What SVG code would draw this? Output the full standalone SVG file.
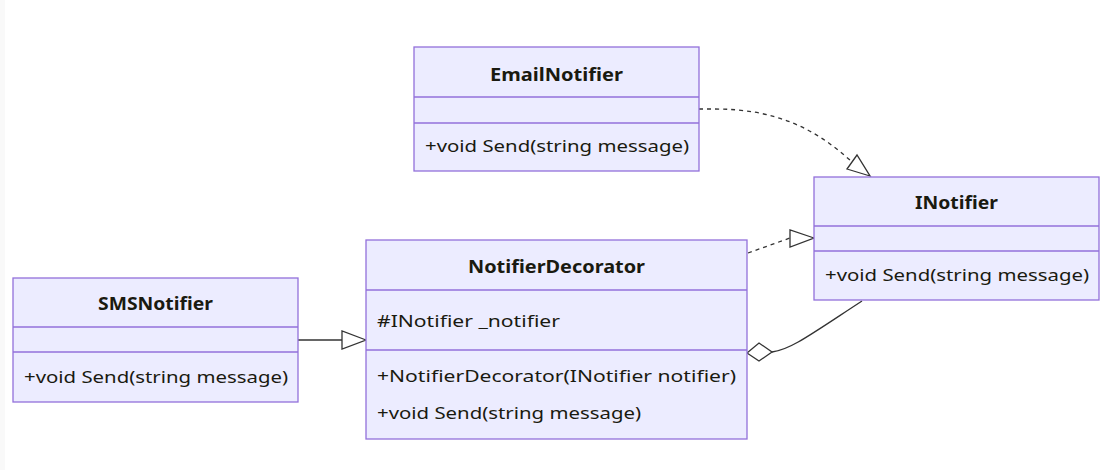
<svg xmlns="http://www.w3.org/2000/svg" width="1111" height="470" viewBox="0 0 1111 470">
<style>
.box{fill:#ECECFF;stroke:#9370DB;stroke-width:1.3}
.div{stroke:#9370DB;stroke-width:1.3}
.t{font-family:"Noto Sans","DejaVu Sans",sans-serif;font-size:17px;fill:#1a1a10}
.title{font-weight:bold;text-anchor:middle}
.edge{fill:none;stroke:#333;stroke-width:1.3}
.dash{stroke-dasharray:4 4}
.head{fill:#fff;stroke:#333;stroke-width:1.3}
</style>
<rect width="1111" height="470" fill="#fff"/>
<rect x="0" y="0" width="5" height="470" fill="#f9f9f9"/>
<g id="connectors">
<path class="edge dash" d="M699,109 L715,109 C775,109 815,128 852,162"/>
<polygon class="head" points="870,176 847,169 857,155"/>
<path class="edge dash" d="M748,253 L790,238"/>
<polygon class="head" points="814,238 790,230 790,247"/>
<path class="edge" d="M298,340 L342,340"/>
<polygon class="head" points="366,340 342,331 342,349"/>
<path class="edge" d="M772,352 C790,350 810,335 862,301"/>
<polygon class="head" points="747,353 759,343 772,352 759,361"/>
</g>
<g id="EmailNotifier">
<rect class="box" x="414" y="47" width="285" height="124"/>
<line class="div" x1="414" y1="97" x2="699" y2="97"/>
<line class="div" x1="414" y1="123" x2="699" y2="123"/>
<text class="t title" x="556.5" y="81" textLength="133" lengthAdjust="spacingAndGlyphs">EmailNotifier</text>
<text class="t" x="425" y="152" textLength="264" lengthAdjust="spacingAndGlyphs">+void Send(string message)</text>
</g>
<g id="INotifier">
<rect class="box" x="814" y="177" width="285" height="123"/>
<line class="div" x1="814" y1="226" x2="1099" y2="226"/>
<line class="div" x1="814" y1="251" x2="1099" y2="251"/>
<text class="t title" x="956.5" y="209" textLength="83" lengthAdjust="spacingAndGlyphs">INotifier</text>
<text class="t" x="825" y="281" textLength="264" lengthAdjust="spacingAndGlyphs">+void Send(string message)</text>
</g>
<g id="NotifierDecorator">
<rect class="box" x="366" y="240" width="381" height="199"/>
<line class="div" x1="366" y1="290" x2="747" y2="290"/>
<line class="div" x1="366" y1="350" x2="747" y2="350"/>
<text class="t title" x="556.5" y="273" textLength="177" lengthAdjust="spacingAndGlyphs">NotifierDecorator</text>
<text class="t" x="377" y="327" textLength="183" lengthAdjust="spacingAndGlyphs">#INotifier _notifier</text>
<text class="t" x="377" y="382" textLength="359" lengthAdjust="spacingAndGlyphs">+NotifierDecorator(INotifier notifier)</text>
<text class="t" x="377" y="419" textLength="264" lengthAdjust="spacingAndGlyphs">+void Send(string message)</text>
</g>
<g id="SMSNotifier">
<rect class="box" x="13" y="278" width="285" height="124"/>
<line class="div" x1="13" y1="327" x2="298" y2="327"/>
<line class="div" x1="13" y1="352" x2="298" y2="352"/>
<text class="t title" x="155.5" y="310" textLength="115" lengthAdjust="spacingAndGlyphs">SMSNotifier</text>
<text class="t" x="24" y="383" textLength="264" lengthAdjust="spacingAndGlyphs">+void Send(string message)</text>
</g>
</svg>
